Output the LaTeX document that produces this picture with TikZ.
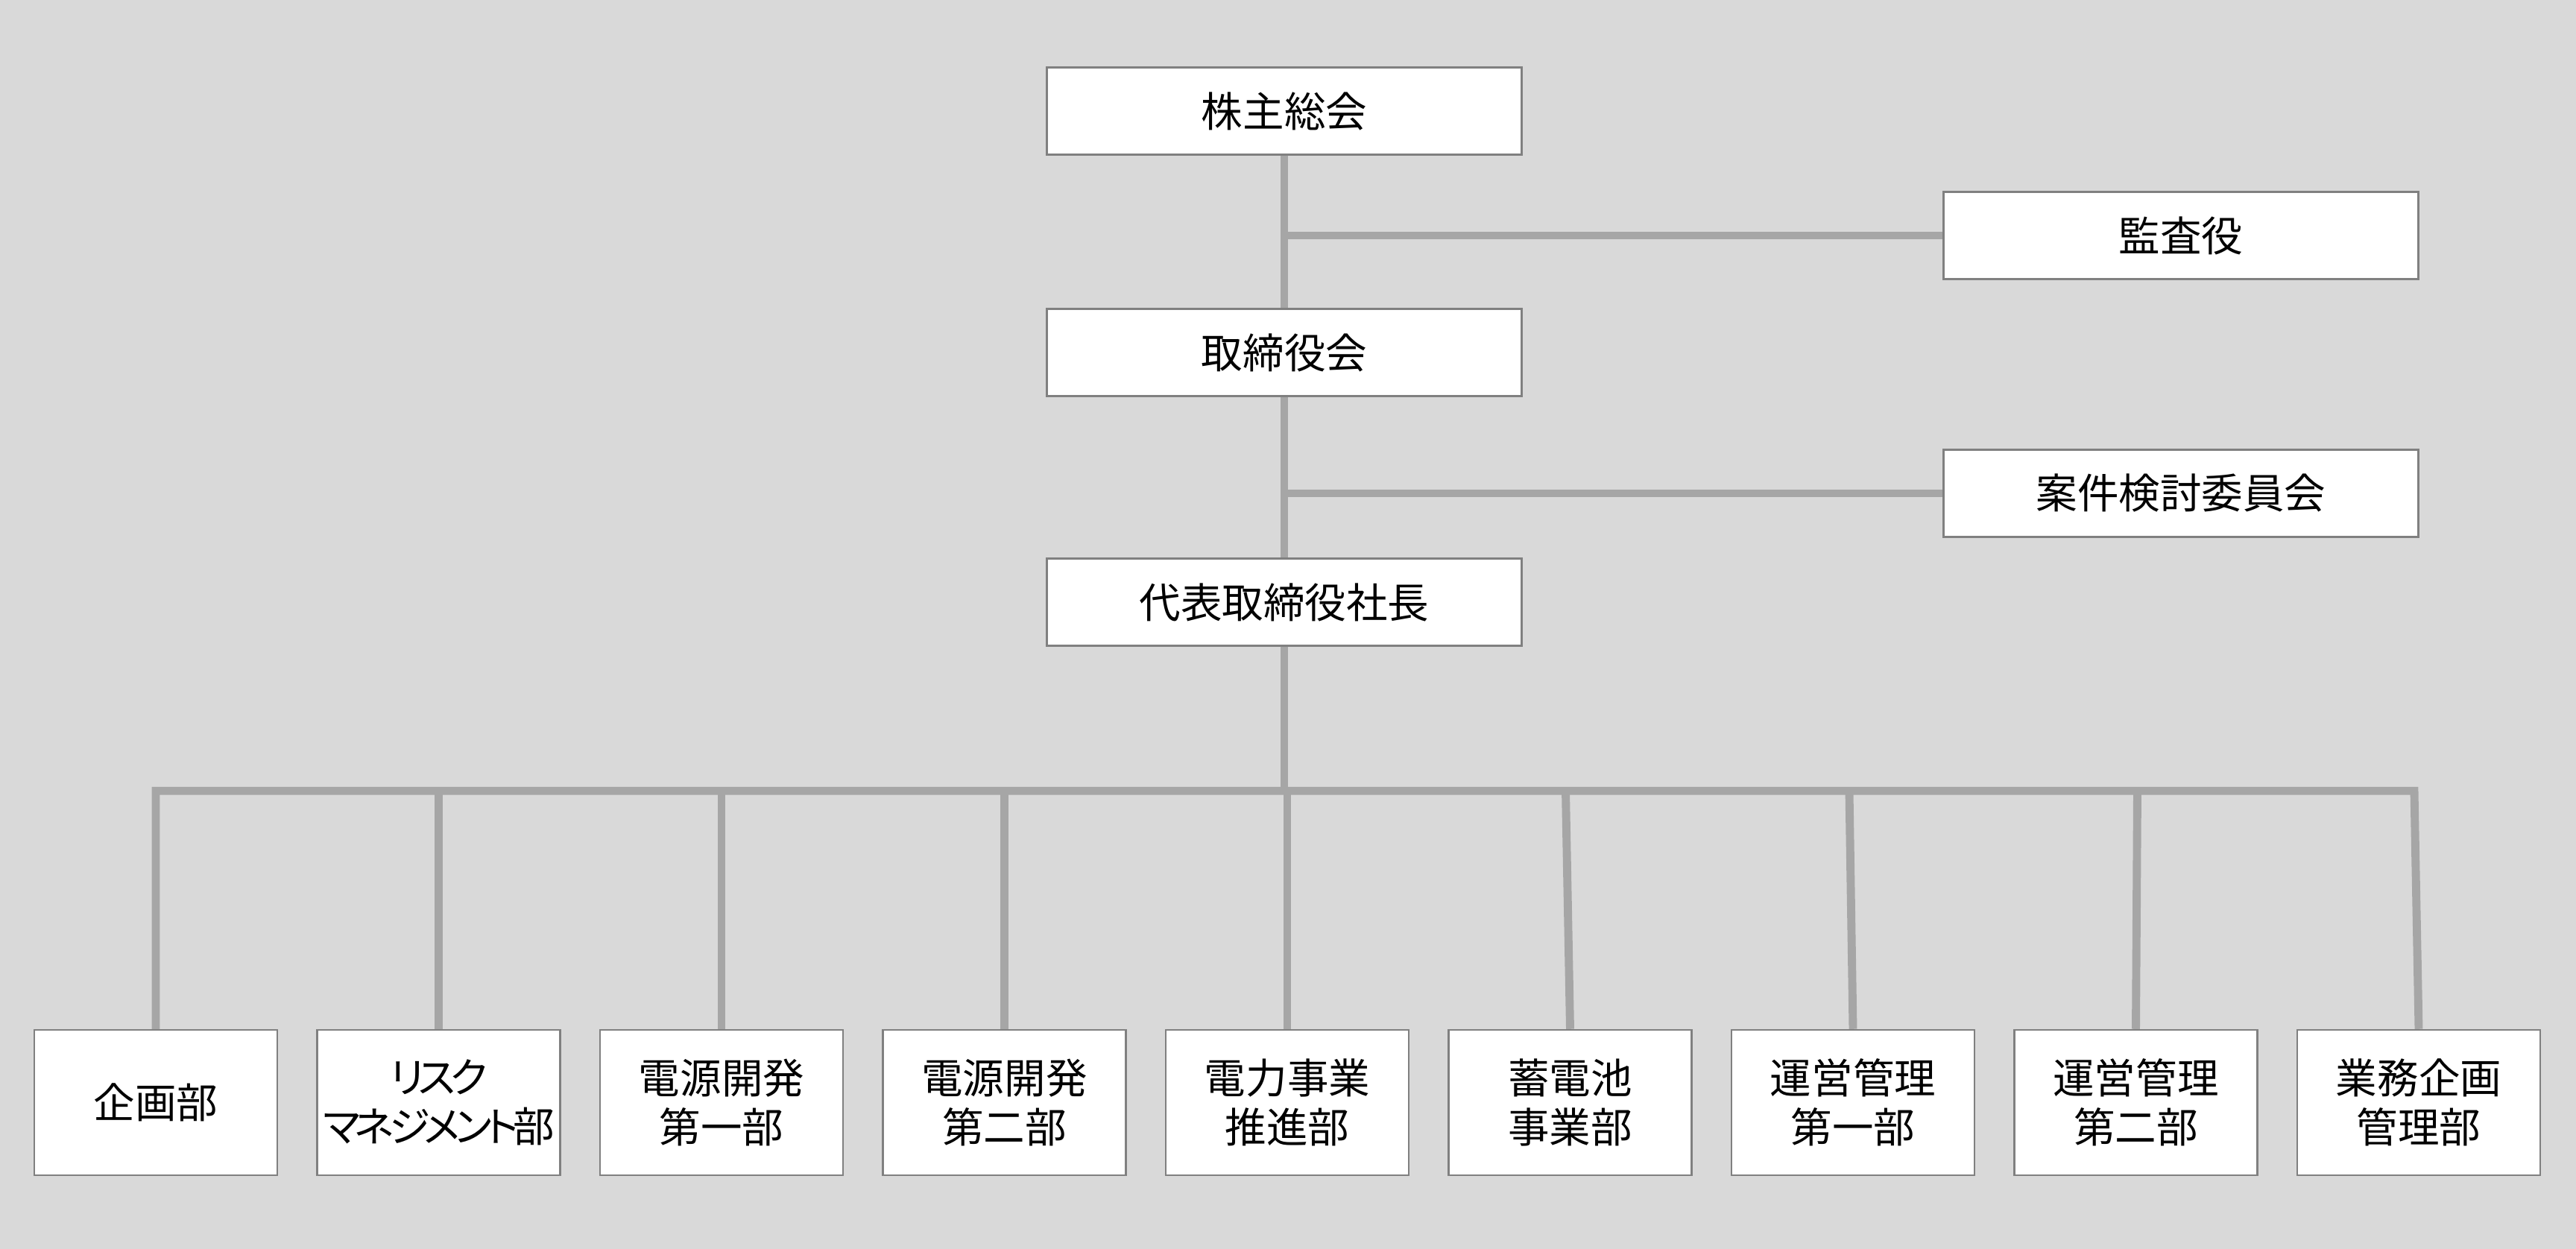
\documentclass[tikz,border=0pt]{standalone}
\usepackage{fontspec}
\setmainfont{Noto Sans CJK JP}[RawFeature=+palt]
\newfontfamily\narrowkana{Noto Sans CJK JP}[RawFeature=+palt,LetterSpace=-13]
\usetikzlibrary{positioning,calc}
\definecolor{paper}{HTML}{D9D9D9}
\definecolor{linkgray}{HTML}{A6A6A6}
\definecolor{edgegray}{HTML}{808080}
\tikzset{unit/.style={draw=edgegray,fill=white,line width=0.7pt,align=center,
  minimum width=63.7mm,minimum height=11.7mm,inner sep=0pt},
  dept/.style={unit,minimum width=32.6mm,minimum height=19.5mm},
  link/.style={draw=linkgray,line width=3.1pt}}

\begin{document}
\begin{tikzpicture}[x=1mm,y=1mm,font=\fontsize{15.8pt}{18.8pt}\selectfont]
\fill[paper] (0,0) rectangle (345.6,-167.6);
\useasboundingbox (0,0) rectangle (345.6,-167.6);
\node[unit] (agm) at (172.3,-14.9) {株主総会};
\node[unit] (audit) at (292.6,-31.6) {監査役};
\node[unit] (board) at (172.3,-47.3) {取締役会};
\node[unit] (review) at (292.6,-66.2) {案件検討委員会};
\node[unit] (ceo) at (172.3,-80.8) {代表取締役社長};
\draw[link] (agm.south) -- (board.north);
\draw[link] (board.south) -- (ceo.north);
\coordinate (j1) at (agm.south |- audit.west);
\coordinate (j2) at (board.south |- review.west);
\draw[link] (j1) -- (audit.west);
\draw[link] (j2) -- (review.west);
\coordinate (bus) at ($(ceo.south)+(0,-19.35)$);
\foreach \i/\lab/\dx in {1/企画部/0,2/{{\narrowkana リスク}\\{\narrowkana マネジメント部}}/0,
  3/{電源開発\\第一部}/0,4/{電源開発\\第二部}/0,5/{電力事業\\推進部}/0,
  6/{蓄電池\\事業部}/-.6,7/{運営管理\\第一部}/-.5,8/{運営管理\\第二部}/.2,
  9/{業務企画\\管理部}/-.6}{
  \node[dept] (d\i) at (20.9+37.95*\i-37.95,-147.95) {\lab};
  \coordinate (t\i) at ($(d\i.north |- bus)+(\dx,0)$);}
\draw[link] (ceo.south) -- (bus);
\draw[link,line join=miter] (d1.north) -- (t1) -- (t9) -- (d9.north);
\foreach \i in {2,...,8}{\draw[link] (t\i) -- (d\i.north);}
\end{tikzpicture}
\end{document}
